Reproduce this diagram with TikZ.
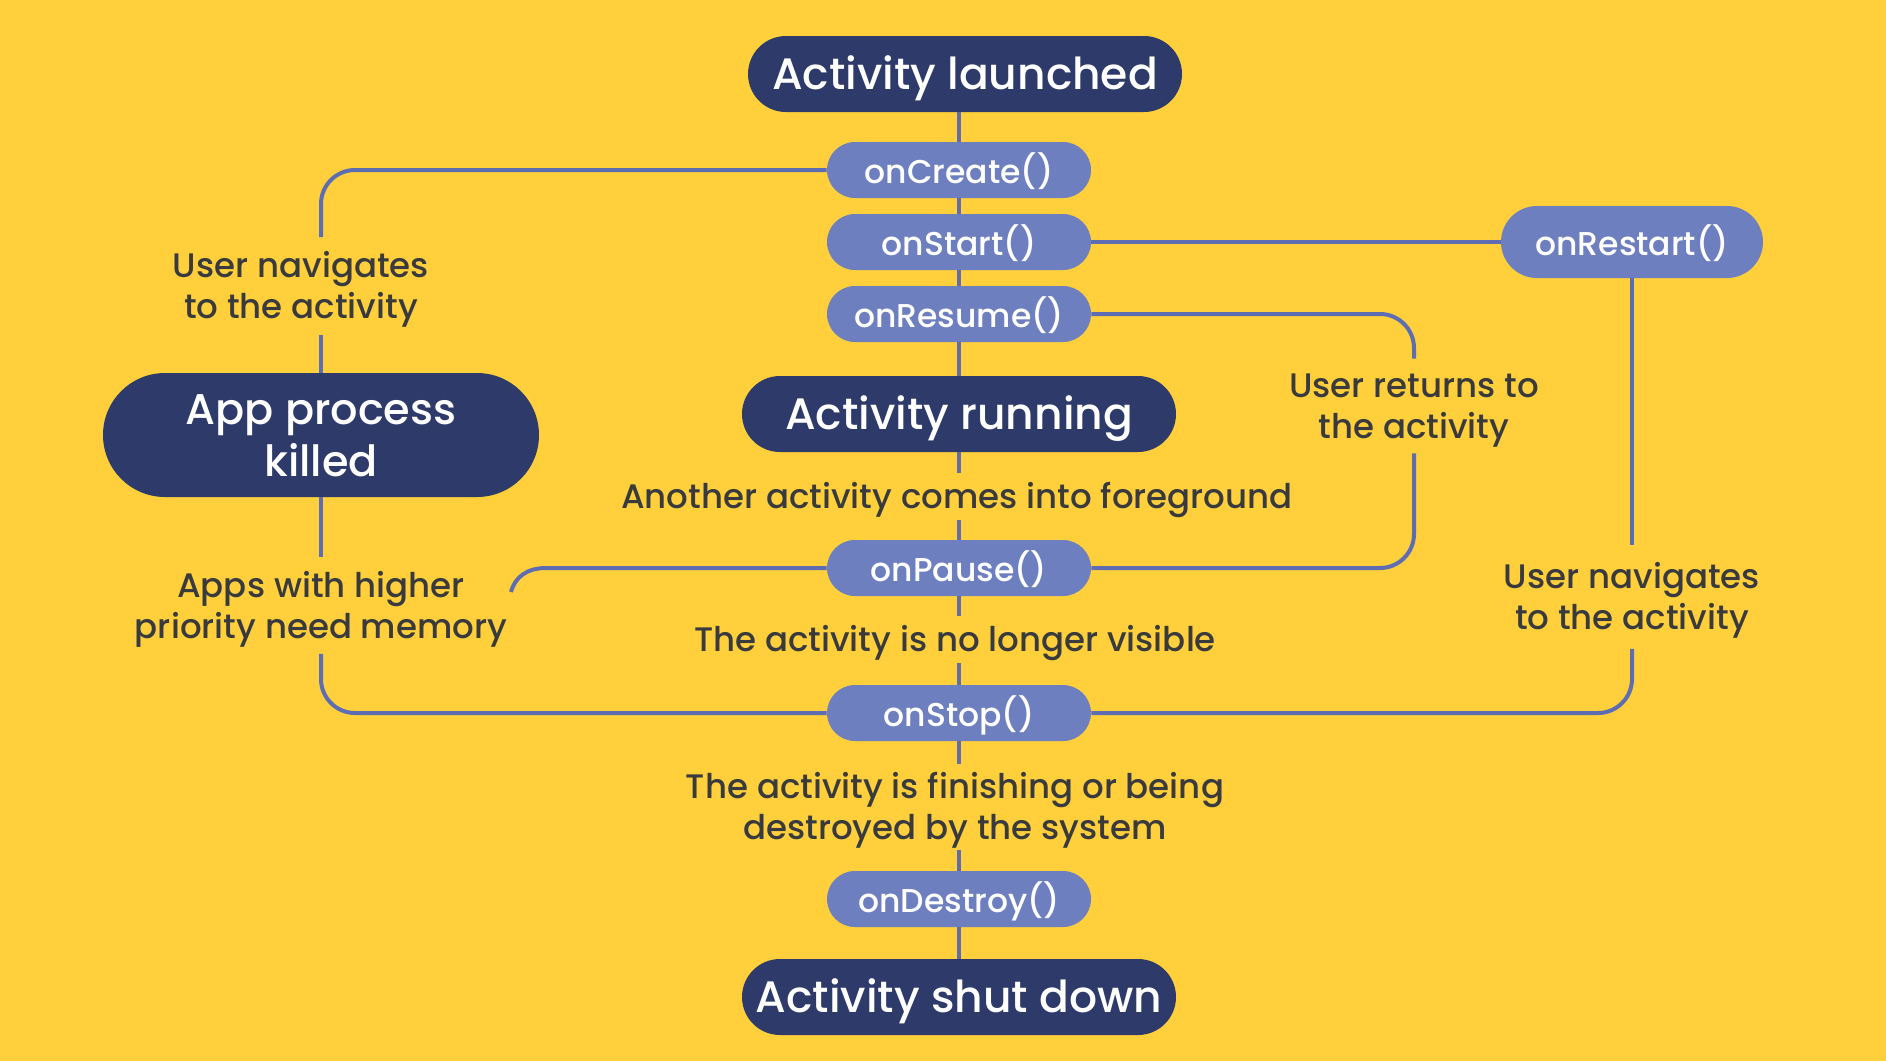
\documentclass[tikz,border=0pt]{standalone}
\usepackage{fontspec}
\setmainfont{Poppins Medium}
\usetikzlibrary{calc}
\definecolor{bg}{HTML}{FFD03B}
\definecolor{navy}{HTML}{2E3A6A}
\definecolor{pillc}{HTML}{6E7FC0}
\definecolor{linec}{HTML}{5E6DB2}
\definecolor{labc}{HTML}{393A3E}
\newcommand\ltop{\rule{0pt}{16.5pt}}
\newcommand\lbot{\rule[-4.5pt]{0pt}{4.5pt}}
\newcommand\ktop{\rule{0pt}{20.6pt}}
\newcommand\kbot{\rule[-5.6pt]{0pt}{5.6pt}}
\tikzset{
  darkbox/.style={fill=navy, text=white, rounded corners=19pt, minimum width=217pt, minimum height=38pt, inner sep=0pt,
    font=\fontsize{22}{26}\selectfont,
    execute at begin node={\rule{0pt}{21.1pt}}, execute at end node={\rule[-5.7pt]{0pt}{5.7pt}}},
  killbox/.style={fill=navy, text=white, rounded corners=31pt, minimum width=218pt, minimum height=62pt, inner sep=0pt,
    align=center, font=\fontsize{21.5}{26}\selectfont},
  pill/.style={fill=pillc, text=white, rounded corners=14pt, minimum width=132pt, minimum height=28pt, inner sep=0pt,
    font=\fontsize{16.5}{20}\selectfont,
    execute at begin node={\rule{0pt}{17.6pt}}, execute at end node={\rule[-4.3pt]{0pt}{4.3pt}}},
  lab/.style={text=labc, inner sep=0pt, align=center, font=\fontsize{17}{20.5}\selectfont},
  conn/.style={draw=linec, line width=2pt},
  roundconn/.style={conn, rounded corners=17pt}
}
\begin{document}
\begin{tikzpicture}[x=0.5pt, y=-0.5pt]
\fill[bg] (0,0) rectangle (1886,1061);
\useasboundingbox (0,0) rectangle (1886,1061);

% main column
\node[darkbox] (launched) at (965,74) {Activity launched};
\node[pill] (create) at (959,170) {onCreate()};
\node[pill] (start) at (959,242) {onStart()};
\node[pill] (resume) at (959,314) {onResume()};
\node[darkbox] (running) at (959,414) {Activity running};
\node[lab, minimum height=23.5pt] (lAnother) at (957,496.5) {\ltop Another activity comes into foreground\lbot};
\node[pill] (pause) at (959,568) {onPause()};
\node[lab, minimum height=23.5pt] (lNoVis) at (955,639.5) {\ltop The activity is no longer visible\lbot};
\node[pill] (stop) at (959,713) {onStop()};
\node[lab, minimum height=43pt] (lFinish) at (955,807) {\ltop The activity is finishing or being\\destroyed by the system\lbot};
\node[pill] (destroy) at (959,899) {onDestroy()};
\node[darkbox] (shutdown) at (959,997) {Activity shut down};

% left
\node[killbox] (killed) at (321,435) {\ktop App process\\killed\kbot};
\node[lab, minimum height=48.5pt] (lNavL) at (301,286) {\ltop User navigates\\to the activity\lbot};
\node[lab, minimum height=48pt] (lApps) at (321,605.5) {\ltop Apps with higher\\priority need memory\lbot};

% right
\node[pill, minimum width=131pt, minimum height=36pt, rounded corners=18pt] (restart) at (1632,242) {onRestart()};
\node[lab, minimum height=47pt] (lReturns) at (1414,406) {\ltop User returns to\\the activity\lbot};
\node[lab, minimum height=51.5pt] (lNavR) at (1632,597) {\ltop User navigates\\to the activity\lbot};

\coordinate (pEnd) at (511,592);
\coordinate (pBend) at (546,568);

% connectors, main column
\draw[conn] (create.north) -- (create.north |- launched.south);
\draw[conn] (create) -- (start);
\draw[conn] (start) -- (resume);
\draw[conn] (resume) -- (running);
\draw[conn] (running.south) -- (running.south |- lAnother.north);
\draw[conn] (pause.north) -- (pause.north |- lAnother.south);
\draw[conn] (pause.south) -- (pause.south |- lNoVis.north);
\draw[conn] (stop.north) -- (stop.north |- lNoVis.south);
\draw[conn] (stop.south) -- (stop.south |- lFinish.north);
\draw[conn] (destroy.north) -- (destroy.north |- lFinish.south);
\draw[conn] (destroy) -- (shutdown);

% left loops
\draw[roundconn] (create.west) -| (killed.north |- lNavL.north);
\draw[conn] (killed.north) -- (killed.north |- lNavL.south);
\draw[conn] (killed.south) -- (killed.south |- lApps.north);
\draw[roundconn] (killed.south |- lApps.south) |- (stop.west);
\draw[conn] (pause.west) -- (pBend) .. controls (527,568) and (515,577) .. (pEnd);

% right loops
\draw[conn] (start) -- (restart);
\draw[conn] (restart.south) -- (restart.south |- lNavR.north);
\draw[roundconn] (restart.south |- lNavR.south) |- (stop.east);
\draw[roundconn] (resume.east) -| (lReturns.north);
\draw[roundconn] (lReturns.south) |- (pause.east);
\end{tikzpicture}
\end{document}
